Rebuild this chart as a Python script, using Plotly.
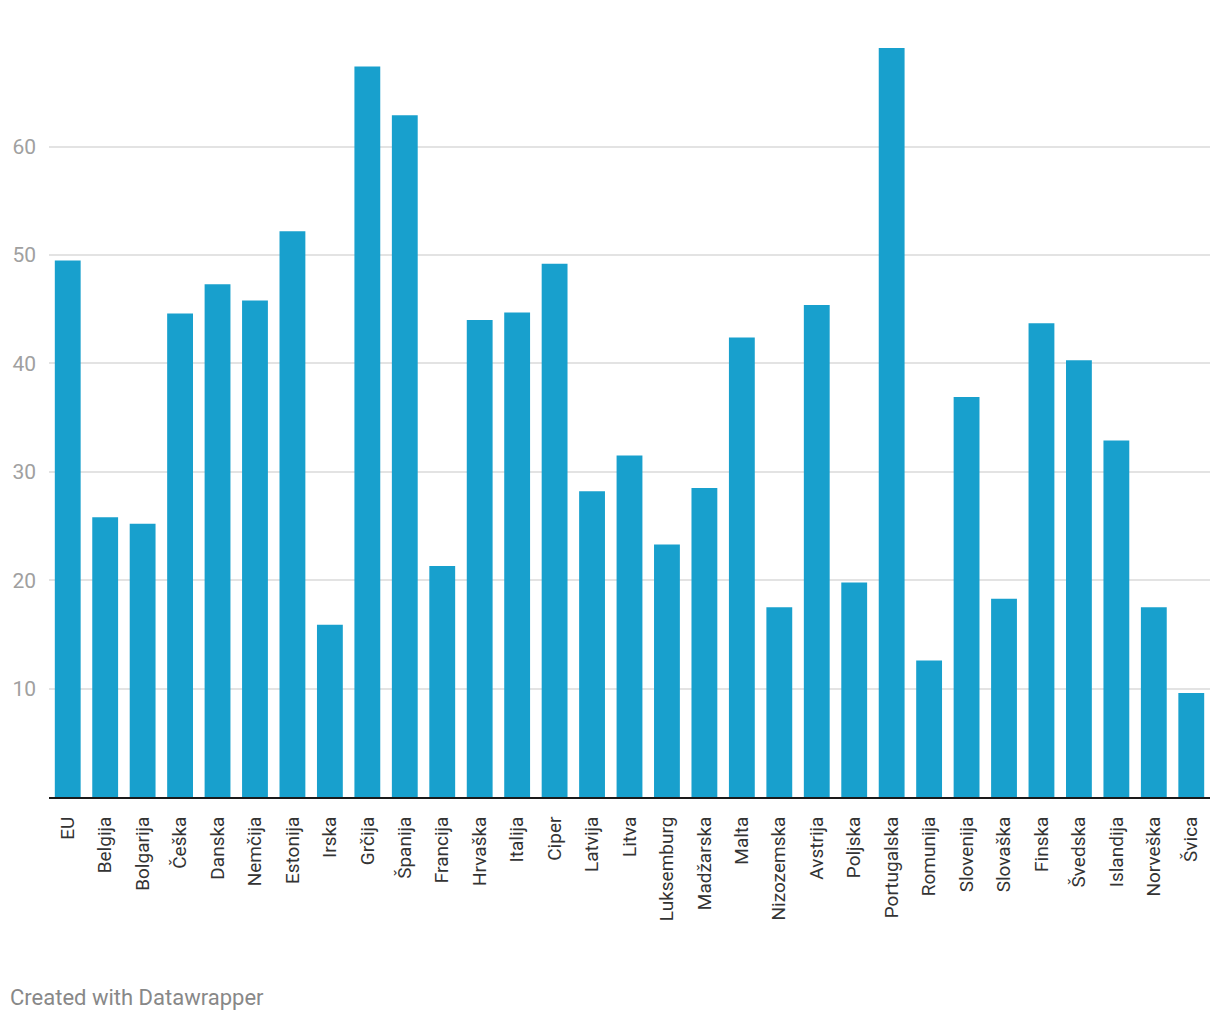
import plotly.graph_objects as go

countries = ["EU", "Belgija", "Bolgarija", "Češka", "Danska", "Nemčija", "Estonija", "Irska",
             "Grčija", "Španija", "Francija", "Hrvaška", "Italija", "Ciper", "Latvija", "Litva",
             "Luksemburg", "Madžarska", "Malta", "Nizozemska", "Avstrija", "Poljska", "Portugalska",
             "Romunija", "Slovenija", "Slovaška", "Finska", "Švedska", "Islandija", "Norveška", "Švica"]
values = [49.5, 25.8, 25.2, 44.6, 47.3, 45.8, 52.2, 15.9,
          67.4, 62.9, 21.3, 44.0, 44.7, 49.2, 28.2, 31.5,
          23.3, 28.5, 42.4, 17.5, 45.4, 19.8, 69.1,
          12.6, 36.9, 18.3, 43.7, 40.3, 32.9, 17.5, 9.6]
y_ticks = [10, 20, 30, 40, 50, 60]

OFF = 8  # page body margin
W, H = 1220 - OFF, 1020 - OFF
ml, mr, mt, mb = 49 - OFF, 10, 44 - OFF, 223
plot_w = W - ml - mr
plot_h = H - mt - mb

fig = go.Figure(go.Bar(x=countries, y=values, marker_color="#18a0cd",
                       marker_line_width=0))

fig.update_layout(
    width=W, height=H,
    margin=dict(l=ml, r=mr, t=mt, b=mb),
    paper_bgcolor="white", plot_bgcolor="white",
    bargap=0.31,
    font=dict(family="Roboto", color="#333333"),
    showlegend=False,
)
fig.update_xaxes(
    tickangle=-90, tickfont=dict(size=19, color="#333333"),
    showline=True, linecolor="#1a1a1a", linewidth=2,
    ticks="", showgrid=False, range=[-0.5, 30.5], ticklabelstandoff=10,
    automargin=False,
)
fig.update_yaxes(
    range=[0, 69.47], tickvals=y_ticks, ticktext=[str(v) for v in y_ticks],
    tickfont=dict(size=21, color="#a0a0a0"),
    showgrid=True, gridcolor="#e3e3e3", gridwidth=1.5,
    zeroline=False, showline=False, ticks="", ticklabelstandoff=12,
    automargin=False,
)
fig.add_annotation(
    text="Created with Datawrapper", xref="paper", yref="paper",
    x=(8 - 49) / plot_w, y=(797 - 997) / plot_h,
    xanchor="left", yanchor="middle", showarrow=False,
    font=dict(size=22, color="#888888", family="Roboto"),
)
fig.write_html("out.html")
